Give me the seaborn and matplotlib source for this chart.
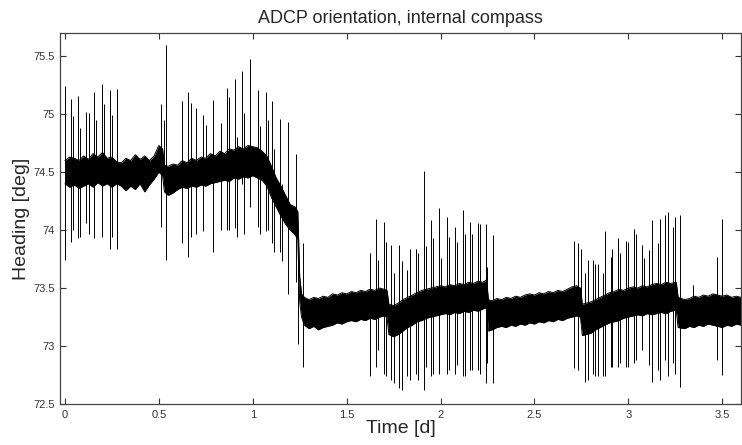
import numpy as np
import pandas as pd
import matplotlib
matplotlib.use("Agg")
import matplotlib.pyplot as plt
import seaborn as sns

# --- data ---
# envelope of the dense noisy heading band (time in days, heading in deg)
band_t = [0.000, 0.025, 0.050, 0.075, 0.100, 0.125, 0.150, 0.175, 0.200, 0.225,
          0.250, 0.275, 0.300, 0.325, 0.350, 0.375, 0.400, 0.425, 0.450, 0.475,
          0.500, 0.520, 0.530, 0.550, 0.575, 0.600, 0.625, 0.650, 0.675, 0.700,
          0.725, 0.750, 0.775, 0.800, 0.825, 0.850, 0.875, 0.900, 0.925, 0.950,
          0.975, 1.000, 1.025, 1.050, 1.075, 1.100, 1.125, 1.150, 1.175, 1.200,
          1.225, 1.240, 1.250, 1.260, 1.275, 1.300, 1.325, 1.350, 1.375, 1.400,
          1.425, 1.450, 1.475, 1.500, 1.525, 1.550, 1.575, 1.600, 1.625, 1.650,
          1.675, 1.700, 1.715, 1.725, 1.750, 1.775, 1.800, 1.825, 1.850, 1.875,
          1.900, 1.925, 1.950, 1.975, 2.000, 2.025, 2.050, 2.075, 2.100, 2.125,
          2.150, 2.175, 2.200, 2.225, 2.245, 2.255, 2.275, 2.300, 2.325, 2.350,
          2.375, 2.400, 2.425, 2.450, 2.475, 2.500, 2.525, 2.550, 2.575, 2.600,
          2.625, 2.650, 2.675, 2.700, 2.725, 2.745, 2.755, 2.775, 2.800, 2.825,
          2.850, 2.875, 2.900, 2.925, 2.950, 2.975, 3.000, 3.025, 3.050, 3.075,
          3.100, 3.125, 3.150, 3.175, 3.200, 3.225, 3.255, 3.265, 3.300, 3.325,
          3.350, 3.375, 3.400, 3.425, 3.450, 3.475, 3.500, 3.525, 3.550, 3.575,
          3.600]
band_hi = [74.60, 74.63, 74.62, 74.60, 74.64, 74.61, 74.66, 74.63, 74.67, 74.62,
           74.63, 74.59, 74.58, 74.62, 74.60, 74.65, 74.61, 74.64, 74.60, 74.64,
           74.73, 74.70, 74.56, 74.55, 74.57, 74.56, 74.60, 74.58, 74.62, 74.60,
           74.63, 74.62, 74.66, 74.64, 74.68, 74.66, 74.70, 74.69, 74.72, 74.70,
           74.73, 74.72, 74.71, 74.68, 74.64, 74.55, 74.45, 74.38, 74.30, 74.22,
           74.20, 74.16, 73.60, 73.45, 73.42, 73.40, 73.42, 73.41, 73.43, 73.42,
           73.45, 73.44, 73.46, 73.45, 73.47, 73.46, 73.48, 73.47, 73.49, 73.48,
           73.50, 73.49, 73.48, 73.36, 73.35, 73.37, 73.40, 73.42, 73.44, 73.46,
           73.48, 73.49, 73.50, 73.51, 73.52, 73.51, 73.53, 73.52, 73.54, 73.53,
           73.55, 73.54, 73.56, 73.55, 73.57, 73.40, 73.39, 73.41, 73.40, 73.42,
           73.41, 73.43, 73.42, 73.44, 73.45, 73.44, 73.46, 73.45, 73.47, 73.46,
           73.48, 73.47, 73.49, 73.51, 73.52, 73.50, 73.36, 73.37, 73.38, 73.40,
           73.42, 73.44, 73.46, 73.47, 73.49, 73.48, 73.50, 73.51, 73.50, 73.52,
           73.51, 73.53, 73.54, 73.53, 73.55, 73.54, 73.55, 73.42, 73.40, 73.41,
           73.43, 73.42, 73.44, 73.43, 73.45, 73.44, 73.43, 73.44, 73.42, 73.43,
           73.42]
band_lo = [74.40, 74.37, 74.39, 74.36, 74.38, 74.40, 74.37, 74.41, 74.38, 74.40,
           74.37, 74.40, 74.38, 74.34, 74.38, 74.35, 74.40, 74.33, 74.39, 74.44,
           74.50, 74.47, 74.33, 74.30, 74.32, 74.35, 74.37, 74.36, 74.38, 74.37,
           74.39, 74.38, 74.40, 74.41, 74.42, 74.43, 74.42, 74.45, 74.44, 74.46,
           74.45, 74.47, 74.45, 74.43, 74.38, 74.28, 74.20, 74.12, 74.05, 74.00,
           73.96, 73.92, 73.38, 73.25, 73.18, 73.15, 73.17, 73.14, 73.16, 73.17,
           73.18, 73.20, 73.19, 73.21, 73.22, 73.21, 73.23, 73.22, 73.24, 73.23,
           73.25, 73.26, 73.25, 73.10, 73.08, 73.10, 73.13, 73.16, 73.18, 73.21,
           73.22, 73.24, 73.25, 73.26, 73.27, 73.28, 73.27, 73.29, 73.28, 73.30,
           73.29, 73.31, 73.30, 73.32, 73.33, 73.13, 73.14, 73.16, 73.17, 73.16,
           73.18, 73.17, 73.19, 73.18, 73.20, 73.19, 73.21, 73.20, 73.22, 73.21,
           73.23, 73.22, 73.24, 73.25, 73.26, 73.25, 73.09, 73.10, 73.11, 73.14,
           73.16, 73.18, 73.20, 73.21, 73.22, 73.24, 73.25, 73.26, 73.27, 73.26,
           73.28, 73.27, 73.28, 73.29, 73.28, 73.30, 73.31, 73.16, 73.15, 73.17,
           73.16, 73.18, 73.17, 73.19, 73.18, 73.17, 73.16, 73.18, 73.17, 73.19,
           73.18]

# single-sample outliers (spikes): time, lowest and highest value
spike_t = [0.002, 0.030, 0.042, 0.072, 0.083, 0.113, 0.127, 0.157, 0.166, 0.197,
           0.206, 0.240, 0.249, 0.277, 0.510, 0.526, 0.538, 0.626, 0.656, 0.670,
           0.697, 0.737, 0.753, 0.790, 0.829, 0.864, 0.873, 0.908, 0.914, 0.944,
           0.956, 0.988, 1.028, 1.040, 1.070, 1.084, 1.100, 1.114, 1.146, 1.158,
           1.190, 1.230, 1.240, 1.270, 1.623, 1.659, 1.667, 1.697, 1.712, 1.738,
           1.750, 1.780, 1.793, 1.823, 1.837, 1.869, 1.882, 1.912, 1.923, 1.947,
           1.961, 1.991, 2.002, 2.034, 2.046, 2.076, 2.089, 2.117, 2.128, 2.155,
           2.169, 2.199, 2.209, 2.240, 2.249, 2.278, 2.712, 2.733, 2.747, 2.770,
           2.784, 2.810, 2.823, 2.840, 2.866, 2.875, 2.905, 2.914, 2.945, 2.958,
           2.989, 2.998, 3.030, 3.042, 3.072, 3.086, 3.112, 3.125, 3.157, 3.166,
           3.196, 3.210, 3.240, 3.249, 3.277, 3.346, 3.470, 3.497]
spike_lo = [73.74, 73.90, 74.00, 73.93, 73.94, 74.06, 73.97, 73.93, 74.45, 73.94,
            74.45, 73.84, 73.94, 73.84, 74.03, 74.50, 73.74, 73.89, 73.77, 73.94,
            73.97, 73.99, 74.45, 73.81, 74.00, 74.00, 74.00, 74.02, 73.94, 74.40,
            73.97, 74.20, 74.03, 73.97, 73.99, 74.00, 73.89, 73.81, 73.81, 73.73,
            73.45, 73.55, 73.02, 72.82, 72.74, 72.82, 72.97, 72.76, 72.74, 72.71,
            72.68, 72.64, 72.62, 72.74, 72.71, 72.76, 72.71, 72.62, 72.82, 72.74,
            72.76, 72.76, 73.30, 72.76, 72.79, 72.76, 72.84, 72.74, 72.74, 72.79,
            72.79, 72.79, 72.76, 72.68, 72.85, 72.68, 72.81, 72.79, 73.20, 72.69,
            72.71, 72.76, 72.74, 72.74, 72.74, 72.74, 72.82, 72.82, 72.82, 72.85,
            72.82, 72.82, 72.85, 72.88, 72.97, 73.30, 72.84, 72.69, 72.79, 72.71,
            72.88, 72.74, 72.85, 72.76, 72.65, 73.30, 72.88, 72.75]
spike_hi = [75.24, 75.13, 74.98, 75.16, 74.88, 75.02, 75.01, 75.19, 74.95, 75.26,
            75.09, 75.21, 74.99, 75.22, 75.09, 74.95, 75.60, 75.11, 75.19, 75.10,
            75.05, 74.99, 74.91, 75.12, 74.92, 75.23, 75.15, 75.30, 74.80, 75.37,
            75.01, 75.48, 75.21, 74.90, 75.19, 74.95, 75.11, 74.70, 74.96, 74.40,
            74.93, 74.66, 74.00, 73.89, 73.80, 74.10, 73.74, 74.07, 73.90, 73.87,
            73.63, 73.87, 73.73, 73.66, 73.84, 73.84, 73.80, 74.51, 73.86, 74.09,
            73.93, 74.19, 73.76, 74.11, 73.94, 74.03, 73.90, 74.17, 73.97, 74.07,
            73.97, 74.06, 74.05, 74.05, 73.68, 73.96, 73.91, 73.89, 73.84, 73.63,
            73.74, 73.74, 73.71, 73.71, 73.63, 73.99, 73.77, 73.84, 73.93, 73.80,
            73.91, 73.90, 74.01, 73.97, 73.87, 73.76, 73.83, 74.09, 73.89, 74.10,
            74.13, 74.16, 74.03, 74.11, 74.13, 73.53, 73.77, 74.10]

x_ticks = [0, 0.5, 1, 1.5, 2, 2.5, 3, 3.5]
x_ticklabels = ["0", "0.5", "1", "1.5", "2", "2.5", "3", "3.5"]
y_ticks = [72.5, 73, 73.5, 74, 74.5, 75, 75.5]
y_ticklabels = ["72.5", "73", "73.5", "74", "74.5", "75", "75.5"]

band = pd.DataFrame({"t": band_t, "hi": band_hi, "lo": band_lo})

sns.set_style("ticks")
plt.rcParams['font.family'] = ['Liberation Sans', 'DejaVu Sans']

fig = plt.figure(figsize=(7.42, 4.45), dpi=100)
ax = fig.add_axes([0.0809, 0.0921, 0.9178, 0.8337])

# dense noisy band
ax.fill_between(band["t"], band["lo"], band["hi"], color="black", linewidth=0)
sns.lineplot(data=band, x="t", y="hi", ax=ax, color="black", linewidth=0.7)
sns.lineplot(data=band, x="t", y="lo", ax=ax, color="black", linewidth=0.7)

# spikes
ax.vlines(spike_t, spike_lo, spike_hi, color="black", linewidth=0.7)

ax.set_xlim(-0.026, 3.6)
ax.set_ylim(72.5, 75.7)
ax.set_xticks(x_ticks)
ax.set_xticklabels(x_ticklabels)
ax.set_yticks(y_ticks)
ax.set_yticklabels(y_ticklabels)

ax.tick_params(direction="in", length=4, width=0.8, labelsize=8,
               colors="#333333", top=True, right=True, pad=4)
for s in ax.spines.values():
    s.set_visible(True)
    s.set_color("#444444")
    s.set_linewidth(0.9)

ax.set_title("ADCP orientation, internal compass", fontsize=13, pad=7)
ax.set_xlabel("Time [d]", fontsize=14, labelpad=0)
ax.set_ylabel("Heading [deg]", fontsize=14, labelpad=2)

fig.savefig("out.png", dpi=100)
